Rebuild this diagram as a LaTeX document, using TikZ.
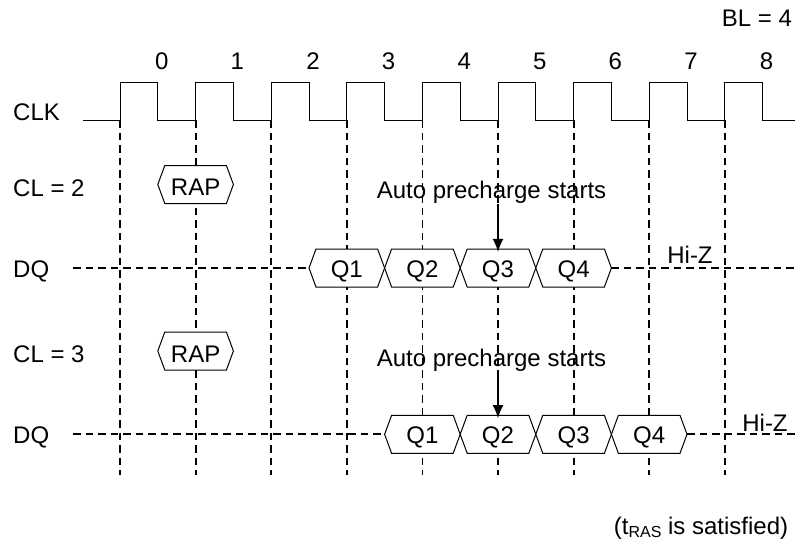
\documentclass[tikz,border=0pt]{standalone}
\usepackage{fontspec}
\setmainfont{Liberation Sans}
\usetikzlibrary{arrows.meta}

\tikzset{
    every node/.style={font=\fontsize{24}{28}\selectfont,inner sep=0pt},
    grid/.style={line width=1.8pt,dash pattern=on 7.5pt off 5pt},
    busline/.style={line width=1pt,fill=white},
    buslabel/.style={minimum height=38pt,yshift=-3pt},
    pointer/.style={line width=1.2pt,-{Latex[length=13pt,width=11pt]}},
}
% one bus value: x from, x to, y, name, text
\newcommand{\busval}[5]{%
    \draw[busline](#1,#3)--++(7,-19)--({#2-7},{#3-19})--(#2,#3)--({#2-7},{#3+19})--({#1+7},{#3+19})--cycle;
    \node[buslabel](#4)at({(#1+#2)/2},#3){#5};}

\begin{document}
\begin{tikzpicture}[x=1pt,y=-1pt]
        \useasboundingbox(0,0)rectangle(795,544);
        % clock edges
        \foreach \k in {0,...,8}{
            \draw[grid]({120+75.6*\k},120)--({120+75.6*\k},475);
            \node(n\k)at({161.8+75.6*\k},61.3){\k};
        }
        \draw[line width=1pt](83,120)foreach \k in {0,...,8}{--({120+75.6*\k},120)--++(0,-37.3)--++(37.8,0)--++(0,37.3)}--(795,120);
        % DQ lines
        \draw[grid](73,268)--(310,268);
        \draw[grid](611,268)--(795,268);
        \draw[grid](73,434.3)--(385,434.3);
        \draw[grid](687,434.3)--(795,434.3);
        % CL = 2
        \busval{157.8}{233.4}{184.5}{rap1}{RAP}
        \busval{309}{384.6}{268}{qa1}{Q1}
        \busval{384.6}{460.2}{268}{qa2}{Q2}
        \busval{460.2}{535.8}{268}{qa3}{Q3}
        \busval{535.8}{611.4}{268}{qa4}{Q4}
        % CL = 3
        \busval{157.8}{233.4}{351}{rap2}{RAP}
        \busval{384.6}{460.2}{434.3}{qb1}{Q1}
        \busval{460.2}{535.8}{434.3}{qb2}{Q2}
        \busval{535.8}{611.4}{434.3}{qb3}{Q3}
        \busval{611.4}{687}{434.3}{qb4}{Q4}
        % labels
        \node[anchor=west](clk)at(13,112){CLK};
        \node[anchor=west](cl2)at(13,188){CL = 2};
        \node[anchor=west](dq1)at(13,271){DQ};
        \node[anchor=west](cl3)at(13,354.5){CL = 3};
        \node[anchor=west](dq2)at(13,437){DQ};
        \node(bl)at(757,18){BL = 4};
        \node(hiz1)at(690,255){Hi-Z};
        \node(hiz2)at(765,423){Hi-Z};
        \node(apc1)at(491.5,192.4){Auto precharge starts};
        \node(apc2)at(491.5,360){Auto precharge starts};
        \draw[pointer](apc1.south-|qa3.north)--(qa3.north);
        \draw[pointer](apc2.south-|qb2.north)--(qb2.north);
        \node(tras)at(701,528){(t\raisebox{-0.25ex}{\fontsize{16}{16}\selectfont RAS} is satisfied)};

    \end{tikzpicture}
\end{document}
